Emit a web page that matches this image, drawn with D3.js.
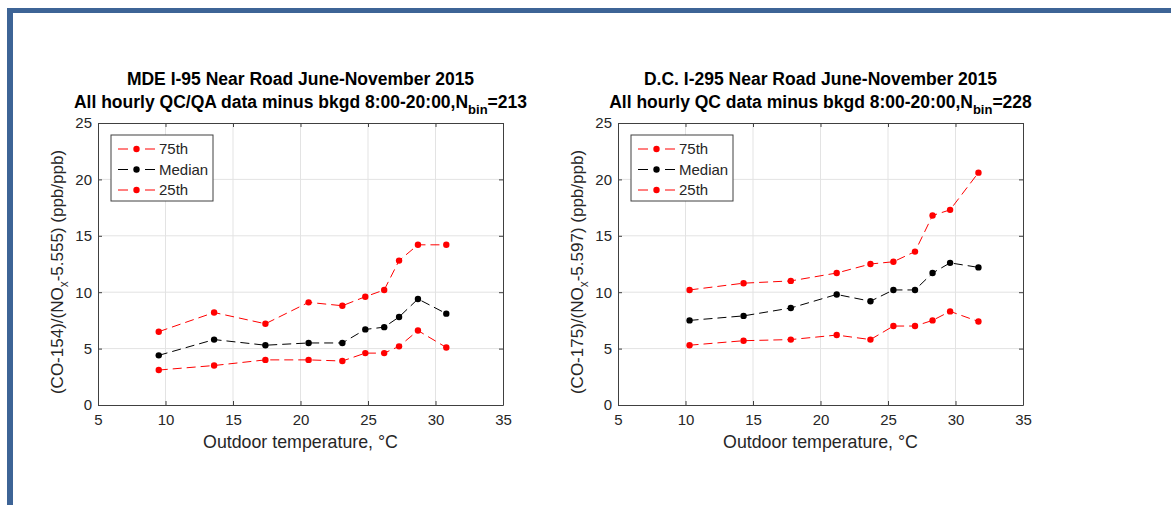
<!DOCTYPE html>
<html>
<head>
<meta charset="utf-8">
<script src="https://cdn.jsdelivr.net/npm/d3@7"></script>
<style>
  html, body { margin: 0; padding: 0; background: #fff; }
  svg { display: block; font-family: "Liberation Sans", Arial, sans-serif; }
</style>
</head>
<body>
<svg id="chart" width="1171" height="505"></svg>
<script>
// ---- data ----
const xTicks = [5, 10, 15, 20, 25, 30, 35];
const yTicks = [0, 5, 10, 15, 20, 25];
const seriesNames = ["75th", "Median", "25th"];
const seriesColors = ["#ff0000", "#000000", "#ff0000"];

const leftTemp = [9.5, 13.6, 17.4, 20.6, 23.1, 24.8, 26.2, 27.3, 28.7, 30.8];
const leftP75 = [6.5, 8.2, 7.2, 9.1, 8.8, 9.6, 10.2, 12.8, 14.2, 14.2];
const leftMed = [4.4, 5.8, 5.3, 5.5, 5.5, 6.7, 6.9, 7.8, 9.4, 8.1];
const leftP25 = [3.1, 3.5, 4.0, 4.0, 3.9, 4.6, 4.6, 5.2, 6.6, 5.1];

const rightTemp = [10.3, 14.3, 17.8, 21.2, 23.7, 25.4, 27.0, 28.3, 29.6, 31.7];
const rightP75 = [10.2, 10.8, 11.0, 11.7, 12.5, 12.7, 13.6, 16.8, 17.3, 20.6];
const rightMed = [7.5, 7.9, 8.6, 9.8, 9.2, 10.2, 10.2, 11.7, 12.6, 12.2];
const rightP25 = [5.3, 5.7, 5.8, 6.2, 5.8, 7.0, 7.0, 7.5, 8.3, 7.4];

const panels = [
  { title1: "MDE I-95 Near Road June-November 2015",
    title2a: "All hourly QC/QA data minus bkgd 8:00-20:00,N", title2b: "bin", title2c: "=213",
    yA: "(CO-154)/(NO", yB: "x", yC: "-5.555) (ppb/ppb)",
    temp: leftTemp, series: [leftP75, leftMed, leftP25], x0: 98 },
  { title1: "D.C. I-295 Near Road June-November 2015",
    title2a: "All hourly QC data minus bkgd 8:00-20:00,N", title2b: "bin", title2c: "=228",
    yA: "(CO-175)/(NO", yB: "x", yC: "-5.597) (ppb/ppb)",
    temp: rightTemp, series: [rightP75, rightMed, rightP25], x0: 618 }
];

const svg = d3.select("#chart");

// frame (blue border of the slide)
svg.append("rect").attr("x", 7).attr("y", 8).attr("width", 1171).attr("height", 5).attr("fill", "#3d6496");
svg.append("rect").attr("x", 7).attr("y", 8).attr("width", 6).attr("height", 505).attr("fill", "#3d6496");

const W = 405, plotTop = 123, plotBottom = 405;
const axisColor = "#404040";
const textColor = "#262626";

panels.forEach(p => {
  const x = d3.scaleLinear().domain([5, 35]).range([p.x0, p.x0 + W]);
  const y = d3.scaleLinear().domain([0, 25]).range([plotBottom, plotTop]);
  const g = svg.append("g");

  // grid
  g.append("g").selectAll("line").data(xTicks.slice(1, -1)).join("line")
    .attr("x1", d => x(d)).attr("x2", d => x(d)).attr("y1", plotTop).attr("y2", plotBottom)
    .attr("stroke", "#e3e3e3").attr("stroke-width", 1);
  g.append("g").selectAll("line").data(yTicks.slice(1, -1)).join("line")
    .attr("y1", d => y(d)).attr("y2", d => y(d)).attr("x1", p.x0).attr("x2", p.x0 + W)
    .attr("stroke", "#e3e3e3").attr("stroke-width", 1);

  // axes
  const styleAxis = (sel, labels) => {
    sel.select(".domain").attr("stroke", axisColor);
    sel.selectAll(".tick line").attr("stroke", axisColor);
    sel.selectAll(".tick text").attr("fill", textColor).style("font-size", "15px")
      .style("font-family", "'Liberation Sans', Arial, sans-serif");
    if (!labels) sel.selectAll(".tick text").remove();
  };
  g.append("g").attr("transform", `translate(0,${plotBottom})`)
    .call(d3.axisBottom(x).tickValues(xTicks).tickSizeInner(-4).tickSizeOuter(0).tickPadding(9))
    .call(s => styleAxis(s, true));
  g.append("g").attr("transform", `translate(0,${plotTop})`)
    .call(d3.axisTop(x).tickValues(xTicks).tickSizeInner(-4).tickSizeOuter(0))
    .call(s => styleAxis(s, false));
  g.append("g").attr("transform", `translate(${p.x0},0)`)
    .call(d3.axisLeft(y).tickValues(yTicks).tickSizeInner(-4).tickSizeOuter(0).tickPadding(6))
    .call(s => styleAxis(s, true));
  g.append("g").attr("transform", `translate(${p.x0 + W},0)`)
    .call(d3.axisRight(y).tickValues(yTicks).tickSizeInner(-4).tickSizeOuter(0))
    .call(s => styleAxis(s, false));

  // series
  const line = d3.line().x((d, i) => x(p.temp[i])).y(d => y(d));
  p.series.forEach((vals, k) => {
    g.append("path").datum(vals).attr("d", line).attr("fill", "none")
      .attr("stroke", seriesColors[k]).attr("stroke-width", 1).attr("stroke-dasharray", "9,5");
    g.append("g").selectAll("circle").data(vals).join("circle")
      .attr("cx", (d, i) => x(p.temp[i])).attr("cy", d => y(d)).attr("r", 3.2)
      .attr("fill", seriesColors[k]);
  });

  // legend
  const lx = p.x0 + 13, ly = 135, lw = 102, lh = 66;
  const leg = g.append("g");
  leg.append("rect").attr("x", lx).attr("y", ly).attr("width", lw).attr("height", lh)
    .attr("fill", "#fff").attr("stroke", axisColor).attr("stroke-width", 1);
  seriesNames.forEach((nm, k) => {
    const yy = ly + 14 + k * 20.5;
    leg.append("line").attr("x1", lx + 7).attr("x2", lx + 44).attr("y1", yy).attr("y2", yy)
      .attr("stroke", seriesColors[k]).attr("stroke-width", 1).attr("stroke-dasharray", "10,17,10");
    leg.append("circle").attr("cx", lx + 25.5).attr("cy", yy).attr("r", 3.2).attr("fill", seriesColors[k]);
    leg.append("text").attr("x", lx + 48).attr("y", yy + 5).text(nm)
      .attr("fill", textColor).style("font-size", "15px");
  });

  // titles
  const cx = p.x0 + W / 2;
  g.append("text").attr("x", cx).attr("y", 85).attr("text-anchor", "middle")
    .style("font-size", "17.5px").style("font-weight", "bold").attr("fill", "#000").text(p.title1);
  const t2 = g.append("text").attr("x", cx).attr("y", 108).attr("text-anchor", "middle")
    .style("font-size", "17.5px").style("font-weight", "bold").attr("fill", "#000");
  t2.append("tspan").text(p.title2a);
  t2.append("tspan").attr("dy", 6).style("font-size", "13px").text(p.title2b);
  t2.append("tspan").attr("dy", -6).text(p.title2c);

  // x label
  g.append("text").attr("x", cx).attr("y", 448).attr("text-anchor", "middle")
    .style("font-size", "17.8px").attr("fill", textColor).text("Outdoor temperature, \u00B0C");

  // y label
  const yl = g.append("text").attr("transform", `translate(${p.x0 - 35},${(plotTop + plotBottom) / 2 + 8}) rotate(-90)`)
    .attr("text-anchor", "middle").style("font-size", "17px").attr("fill", textColor);
  yl.append("tspan").text(p.yA);
  yl.append("tspan").attr("dy", 5).style("font-size", "12px").text(p.yB);
  yl.append("tspan").attr("dy", -5).text(p.yC);
});
</script>
</body>
</html>
